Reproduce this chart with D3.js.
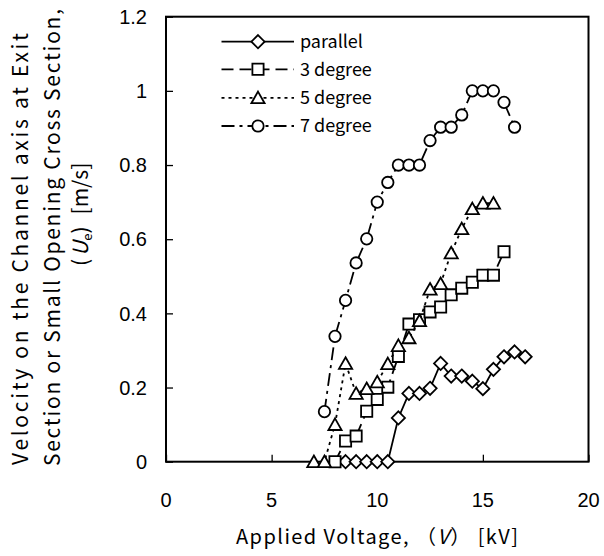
<!DOCTYPE html>
<html><head><meta charset="utf-8">
<script src="https://cdn.jsdelivr.net/npm/d3@7/dist/d3.min.js"></script>
<style>body{margin:0;background:#fff} svg{display:block}</style>
</head><body>
<svg id="c" width="604" height="556"></svg>
<script>
// ---- data ----
const xTicks = [0, 5, 10, 15, 20];
const yTicks = [0, 0.2, 0.4, 0.6, 0.8, 1, 1.2];
const yTickLabels = ["0", "0.2", "0.4", "0.6", "0.8", "1", "1.2"];
const seriesNames = ["parallel", "3 degree", "5 degree", "7 degree"];

const parallelV = [8.5, 9, 9.5, 10, 10.5, 11, 11.5, 12, 12.5, 13, 13.5, 14, 14.5, 15, 15.5, 16, 16.5, 17];
const parallelU = [0, 0, 0, 0, 0, 0.118, 0.184, 0.184, 0.198, 0.265, 0.231, 0.231, 0.217, 0.197, 0.249, 0.283, 0.296, 0.283];

const deg3V = [8, 8.5, 9, 9.5, 10, 10.5, 11, 11.5, 12, 12.5, 13, 13.5, 14, 14.5, 15, 15.5, 16];
const deg3U = [0, 0.056, 0.069, 0.136, 0.168, 0.201, 0.284, 0.371, 0.383, 0.404, 0.417, 0.45, 0.468, 0.484, 0.503, 0.503, 0.566];

const deg5V = [7, 7.5, 8, 8.5, 9, 9.5, 10, 10.5, 11, 11.5, 12, 12.5, 13, 13.5, 14, 14.5, 15, 15.5];
const deg5U = [0, 0, 0.10, 0.265, 0.184, 0.197, 0.215, 0.264, 0.313, 0.334, 0.38, 0.465, 0.48, 0.563, 0.628, 0.682, 0.697, 0.697];

const deg7V = [7.5, 8, 8.5, 9, 9.5, 10, 10.5, 11, 11.5, 12, 12.5, 13, 13.5, 14, 14.5, 15, 15.5, 16, 16.5];
const deg7U = [0.135, 0.338, 0.435, 0.536, 0.601, 0.70, 0.753, 0.80, 0.80, 0.80, 0.866, 0.902, 0.902, 0.935, 1.0, 1.0, 1.0, 0.969, 0.902];

// ---- layout ----
const L = 166, R = 588.5, T = 16.7, B = 461.7;
const x = d3.scaleLinear().domain([0, 20]).range([L, R]);
const y = d3.scaleLinear().domain([0, 1.2]).range([B, T]);
const svg = d3.select("#c");
const tickFont = "'Liberation Sans', Arial, sans-serif";
const jpFont = "'Noto Sans CJK JP', 'Noto Sans', sans-serif";

const markers = {
  diamond: "M0,-6.6L6.6,0L0,6.6L-6.6,0Z",
  square: "M-5.6,-5.6H5.6V5.6H-5.6Z",
  triangle: "M0,-6.2L6.6,5.4L-6.6,5.4Z",
  circle: d3.arc()({innerRadius: 0, outerRadius: 5.7, startAngle: 0, endAngle: 2 * Math.PI})
};

const series = [
  {name: seriesNames[0], v: parallelV, u: parallelU, marker: "diamond", dash: null},
  {name: seriesNames[1], v: deg3V, u: deg3U, marker: "square", dash: "12,6"},
  {name: seriesNames[2], v: deg5V, u: deg5U, marker: "triangle", dash: "3,4"},
  {name: seriesNames[3], v: deg7V, u: deg7U, marker: "circle", dash: "13,5,3,5"}
];

// axes (ticks inward)
const xAxis = d3.axisBottom(x).tickValues(xTicks).tickSize(-7).tickFormat("");
const yAxis = d3.axisLeft(y).tickValues(yTicks).tickSize(-7).tickFormat("");
const gx = svg.append("g").attr("transform", `translate(0,${B})`).call(xAxis);
const gy = svg.append("g").attr("transform", `translate(${L},0)`).call(yAxis);
[gx, gy].forEach(g => {
  g.select(".domain").remove();
  g.selectAll(".tick line").attr("stroke", "#000").attr("stroke-width", 1.3);
});

// frame
svg.append("rect").attr("x", L).attr("y", T).attr("width", R - L).attr("height", B - T)
  .attr("fill", "none").attr("stroke", "#000").attr("stroke-width", 2);

// tick labels
svg.append("g").selectAll("text").data(xTicks).join("text")
  .attr("x", d => x(d)).attr("y", 507).attr("text-anchor", "middle")
  .attr("font-family", tickFont).attr("font-size", 20).text(d => d);
svg.append("g").selectAll("text").data(yTicks).join("text")
  .attr("x", 147).attr("y", d => y(d)).attr("dy", "0.36em").attr("text-anchor", "end")
  .attr("font-family", tickFont).attr("font-size", 20).text((d, i) => yTickLabels[i]);

// series
const line = d3.line().x(d => x(d[0])).y(d => y(d[1]));
series.forEach(s => {
  const pts = s.v.map((v, i) => [v, s.u[i]]);
  const g = svg.append("g");
  g.append("path").attr("d", line(pts)).attr("fill", "none").attr("stroke", "#000")
    .attr("stroke-width", 1.8).attr("stroke-dasharray", s.dash);
  g.selectAll("path.m").data(pts).join("path").attr("class", "m")
    .attr("transform", d => `translate(${x(d[0])},${y(d[1])})`)
    .attr("d", markers[s.marker]).attr("fill", "#fff").attr("stroke", "#000").attr("stroke-width", 1.8);
});

// legend
const legY = [41.7, 69.3, 97.8, 126];
const lg = svg.append("g");
series.forEach((s, i) => {
  lg.append("line").attr("x1", 221.5).attr("x2", 294).attr("y1", legY[i]).attr("y2", legY[i])
    .attr("stroke", "#000").attr("stroke-width", 1.8).attr("stroke-dasharray", s.dash);
  lg.append("path").attr("transform", `translate(258,${legY[i]})`).attr("d", markers[s.marker])
    .attr("fill", "#fff").attr("stroke", "#000").attr("stroke-width", 1.8);
  lg.append("text").attr("x", 300).attr("y", legY[i]).attr("dy", "0.36em")
    .attr("font-family", jpFont).attr("font-size", 18).text(s.name);
});

// x title
const xt = svg.append("text").attr("x", 377).attr("y", 544).attr("text-anchor", "middle")
  .attr("font-family", jpFont).attr("font-size", 20).attr("textLength", 282).attr("lengthAdjust", "spacing");
xt.append("tspan").text("Applied Voltage, （");
xt.append("tspan").attr("font-style", "italic").text("V");
xt.append("tspan").text("） [kV]");

// y title (three rotated lines)
svg.append("text").attr("transform", "translate(28,465) rotate(-90)")
  .attr("font-family", jpFont).attr("font-size", 21).attr("textLength", 432).attr("lengthAdjust", "spacing")
  .text("Velocity on the Channel axis at Exit");
svg.append("text").attr("transform", "translate(60,466) rotate(-90)")
  .attr("font-family", jpFont).attr("font-size", 21).attr("textLength", 457).attr("lengthAdjust", "spacing")
  .text("Section or Small Opening Cross Section,");
const yt3 = svg.append("text").attr("transform", "translate(88,266) rotate(-90)")
  .attr("font-family", jpFont).attr("font-size", 21);
yt3.append("tspan").text("(");
yt3.append("tspan").attr("font-style", "italic").attr("dx", 3).text("U");
yt3.append("tspan").attr("font-size", 13).attr("dy", 4).text("e");
yt3.append("tspan").attr("dy", -4).text(")");
yt3.append("tspan").attr("dx", 12).text("[m/s]");
</script>
</body></html>
